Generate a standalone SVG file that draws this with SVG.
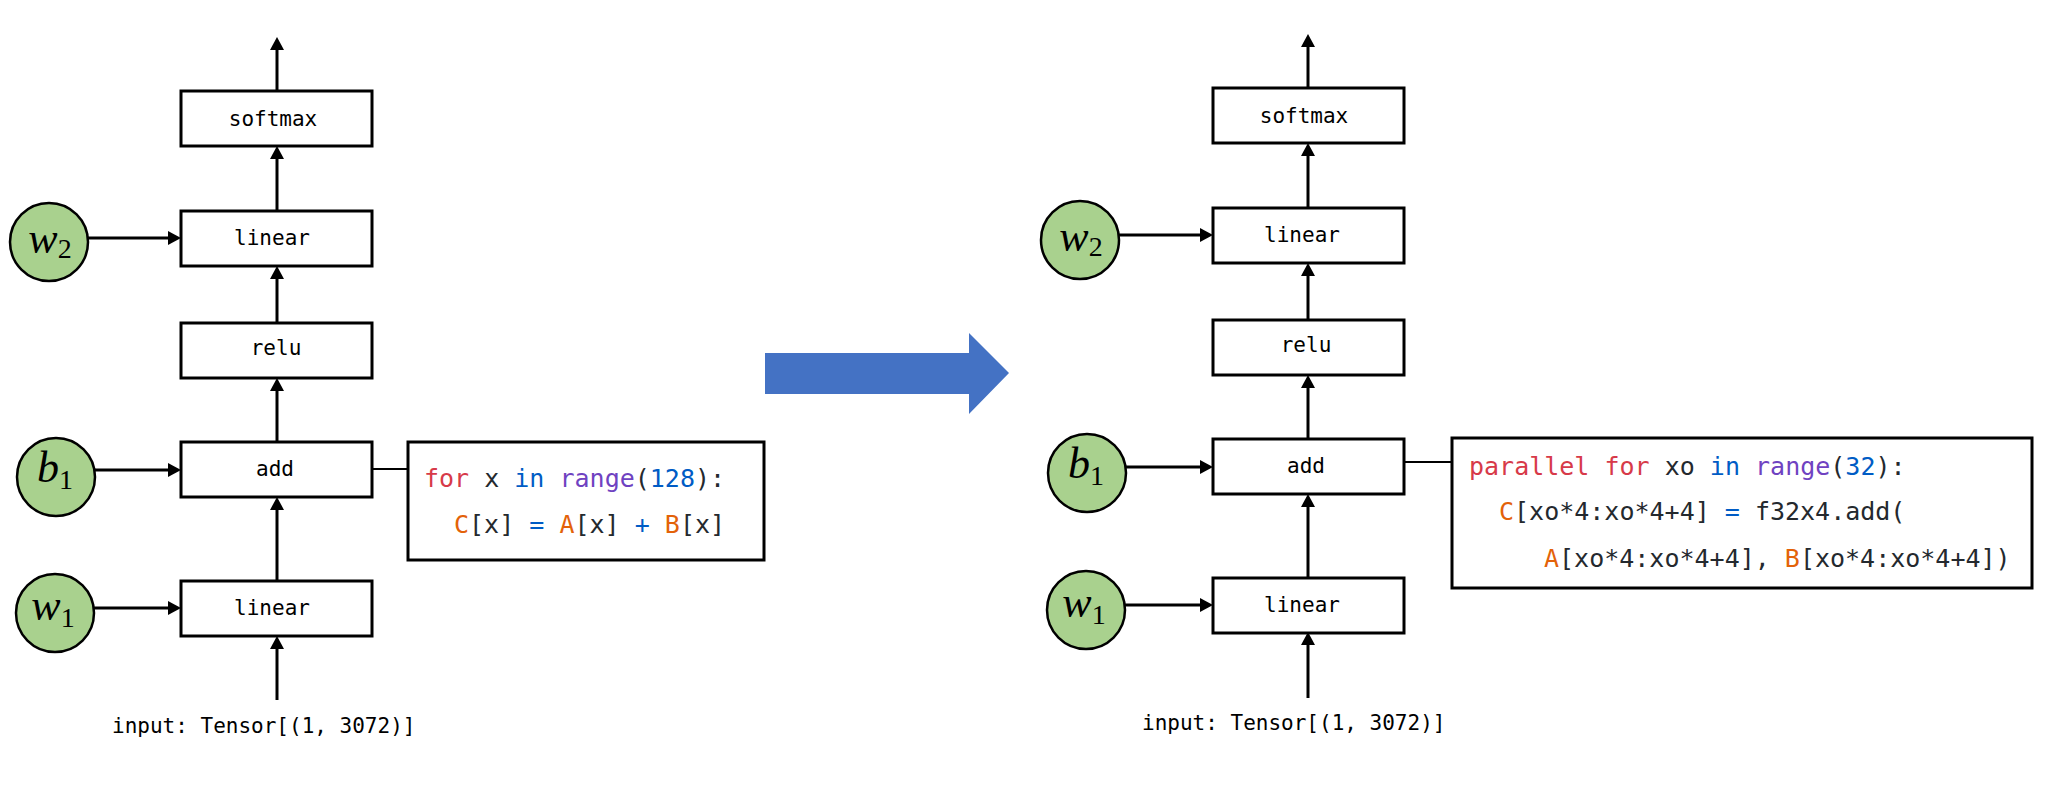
<svg xmlns="http://www.w3.org/2000/svg" width="2054" height="786" viewBox="0 0 2054 786">
<style>
.box{fill:#fff;stroke:#000;stroke-width:3}
.lbl{font-family:"DejaVu Sans Mono","Liberation Mono",monospace;font-size:21px;fill:#000;text-anchor:middle}
.inp{font-family:"DejaVu Sans Mono","Liberation Mono",monospace;font-size:21px;fill:#000}
.circ{fill:#A9D18E;stroke:#000;stroke-width:2.5}
.math{font-family:"Liberation Serif","DejaVu Serif",serif;font-style:italic;font-size:44px;fill:#000;text-anchor:middle}
.sub{font-style:normal;font-size:28px}
.edge{stroke:#000;stroke-width:3;fill:none;marker-end:url(#ah)}
.link{stroke:#000;stroke-width:2;fill:none}
.codebox{fill:#fff;stroke:#000;stroke-width:3}
.code{font-family:"DejaVu Sans Mono","Liberation Mono",monospace;font-size:25px;fill:#24292E}
.kw{fill:#D73A49}.bl{fill:#005CC5}.pu{fill:#6F42C1}.or{fill:#E36209}
</style>
<defs>
<marker id="ah" markerUnits="userSpaceOnUse" markerWidth="14" markerHeight="14" refX="6" refY="7" orient="auto">
<path d="M0,0 L13,7 L0,14 z" fill="#000"/>
</marker>
</defs>

<g id="connectors">
<!-- left -->
<line class="edge" x1="277" y1="91" x2="277" y2="44"/>
<line class="edge" x1="277" y1="211" x2="277" y2="153"/>
<line class="edge" x1="277" y1="323" x2="277" y2="273"/>
<line class="edge" x1="277" y1="442" x2="277" y2="385"/>
<line class="edge" x1="277" y1="581" x2="277" y2="504"/>
<line class="edge" x1="277" y1="700" x2="277" y2="643"/>
<line class="edge" x1="88" y1="238" x2="174" y2="238"/>
<line class="edge" x1="95" y1="470" x2="174" y2="470"/>
<line class="edge" x1="94" y1="608" x2="174" y2="608"/>
<line class="link" x1="372" y1="469" x2="408" y2="469"/>
<!-- right -->
<line class="edge" x1="1308" y1="88" x2="1308" y2="41"/>
<line class="edge" x1="1308" y1="208" x2="1308" y2="150"/>
<line class="edge" x1="1308" y1="320" x2="1308" y2="270"/>
<line class="edge" x1="1308" y1="439" x2="1308" y2="382"/>
<line class="edge" x1="1308" y1="578" x2="1308" y2="501"/>
<line class="edge" x1="1308" y1="698" x2="1308" y2="639"/>
<line class="edge" x1="1119" y1="235" x2="1206" y2="235"/>
<line class="edge" x1="1126" y1="467" x2="1206" y2="467"/>
<line class="edge" x1="1125" y1="605" x2="1206" y2="605"/>
<line class="link" x1="1404" y1="462" x2="1452" y2="462"/>
</g>

<g id="transform-arrow">
<polygon points="765,353 969,353 969,333 1009,373 969,414 969,394 765,394" fill="#4472C4"/>
</g>

<!-- Left graph -->
<g id="L-softmax"><rect class="box" x="181" y="91" width="191" height="55"/><text class="lbl" x="273" y="126">softmax</text></g>
<g id="L-linear2"><rect class="box" x="181" y="211" width="191" height="55"/><text class="lbl" x="272" y="245">linear</text></g>
<g id="L-relu"><rect class="box" x="181" y="323" width="191" height="55"/><text class="lbl" x="276" y="355">relu</text></g>
<g id="L-add"><rect class="box" x="181" y="442" width="191" height="55"/><text class="lbl" x="275" y="476">add</text></g>
<g id="L-linear1"><rect class="box" x="181" y="581" width="191" height="55"/><text class="lbl" x="272" y="615">linear</text></g>
<g id="L-w2"><circle class="circ" cx="49" cy="242" r="39"/><text class="math" x="50" y="253">w<tspan class="sub" dy="5">2</tspan></text></g>
<g id="L-b1"><circle class="circ" cx="56" cy="477" r="39"/><text class="math" x="55" y="482">b<tspan class="sub" dy="7">1</tspan></text></g>
<g id="L-w1"><circle class="circ" cx="55" cy="613" r="39"/><text class="math" x="53" y="620">w<tspan class="sub" dy="7">1</tspan></text></g>
<g id="L-input"><text class="inp" x="112" y="733">input: Tensor[(1, 3072)]</text></g>
<g id="L-code">
<rect class="codebox" x="408" y="442" width="356" height="118"/>
<text class="code" x="424" y="487"><tspan class="kw">for</tspan> x <tspan class="bl">in</tspan> <tspan class="pu">range</tspan>(<tspan class="bl">128</tspan>):</text>
<text class="code" x="454" y="533"><tspan class="or">C</tspan>[x] <tspan class="bl">=</tspan> <tspan class="or">A</tspan>[x] <tspan class="bl">+</tspan> <tspan class="or">B</tspan>[x]</text>
</g>

<!-- Right graph -->
<g id="R-softmax"><rect class="box" x="1213" y="88" width="191" height="55"/><text class="lbl" x="1304" y="123">softmax</text></g>
<g id="R-linear2"><rect class="box" x="1213" y="208" width="191" height="55"/><text class="lbl" x="1302" y="242">linear</text></g>
<g id="R-relu"><rect class="box" x="1213" y="320" width="191" height="55"/><text class="lbl" x="1306" y="352">relu</text></g>
<g id="R-add"><rect class="box" x="1213" y="439" width="191" height="55"/><text class="lbl" x="1306" y="473">add</text></g>
<g id="R-linear1"><rect class="box" x="1213" y="578" width="191" height="55"/><text class="lbl" x="1302" y="612">linear</text></g>
<g id="R-w2"><circle class="circ" cx="1080" cy="240" r="39"/><text class="math" x="1081" y="251">w<tspan class="sub" dy="5">2</tspan></text></g>
<g id="R-b1"><circle class="circ" cx="1087" cy="473" r="39"/><text class="math" x="1086" y="478">b<tspan class="sub" dy="7">1</tspan></text></g>
<g id="R-w1"><circle class="circ" cx="1086" cy="610" r="39"/><text class="math" x="1084" y="617">w<tspan class="sub" dy="7">1</tspan></text></g>
<g id="R-input"><text class="inp" x="1142" y="730">input: Tensor[(1, 3072)]</text></g>
<g id="R-code">
<rect class="codebox" x="1452" y="438" width="580" height="150"/>
<text class="code" x="1469" y="475"><tspan class="kw">parallel</tspan> <tspan class="kw">for</tspan> xo <tspan class="bl">in</tspan> <tspan class="pu">range</tspan>(<tspan class="bl">32</tspan>):</text>
<text class="code" x="1499" y="520"><tspan class="or">C</tspan>[xo*4:xo*4+4] <tspan class="bl">=</tspan> f32x4.add(</text>
<text class="code" x="1544" y="567"><tspan class="or">A</tspan>[xo*4:xo*4+4], <tspan class="or">B</tspan>[xo*4:xo*4+4])</text>
</g>
</svg>
